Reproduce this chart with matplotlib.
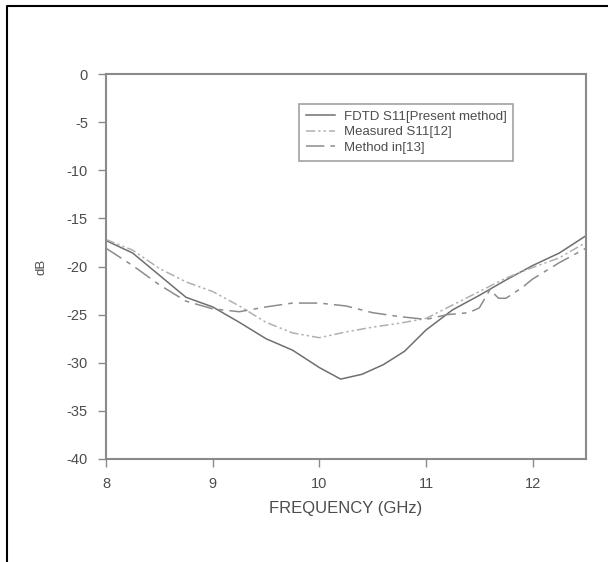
import matplotlib
matplotlib.use('Agg')
import matplotlib.pyplot as plt
from matplotlib.lines import Line2D

# S11 curves (dB) against frequency (GHz)
FDTD_FREQ = [8.0, 8.25, 8.5, 8.75, 9.0, 9.25, 9.5, 9.75, 10.0, 10.2, 10.4,
             10.6, 10.8, 11.0, 11.25, 11.5, 11.75, 12.0, 12.25, 12.5]
FDTD_S11 = [-17.3, -18.6, -20.9, -23.2, -24.2, -25.8, -27.5, -28.7, -30.5,
            -31.7, -31.2, -30.2, -28.8, -26.6, -24.5, -23.0, -21.4, -19.9,
            -18.6, -16.8]

MEAS_FREQ = [8.0, 8.25, 8.5, 8.75, 9.0, 9.25, 9.5, 9.75, 10.0, 10.25, 10.5,
             10.75, 11.0, 11.25, 11.5, 11.75, 12.0, 12.25, 12.5]
MEAS_S11 = [-17.2, -18.3, -20.2, -21.6, -22.6, -24.1, -25.8, -26.9, -27.4,
            -26.8, -26.3, -25.9, -25.4, -24.0, -22.6, -21.2, -20.1, -19.1,
            -17.5]

REF_FREQ = [8.0, 8.25, 8.5, 8.75, 9.0, 9.25, 9.5, 9.75, 10.0, 10.25, 10.5,
            10.75, 11.0, 11.2, 11.4, 11.5, 11.6, 11.68, 11.75, 11.9, 12.0,
            12.25, 12.5]
REF_S11 = [-18.1, -19.9, -21.9, -23.6, -24.4, -24.7, -24.2, -23.8, -23.8,
           -24.1, -24.8, -25.2, -25.5, -25.0, -24.8, -24.3, -22.4, -23.3,
           -23.3, -22.2, -21.3, -19.6, -18.1]

LABELS = ['FDTD S11[Present method]', 'Measured S11[12]', 'Method in[13]']
XTICKS = [8, 9, 10, 11, 12]
YTICKS = [0, -5, -10, -15, -20, -25, -30, -35, -40]

AXIS_GREY = '#8a8a8a'
TEXT_GREY = '#4d4d4d'

plt.rcParams['font.family'] = ['Liberation Sans', 'DejaVu Sans']

fig = plt.figure(figsize=(6.08, 5.62), dpi=100)
ax = fig.add_axes([0.1743, 0.1833, 0.7895, 0.685])

ax.plot(FDTD_FREQ, FDTD_S11, color='#6f6f6f', lw=1.1, ls='-', label=LABELS[0])
ax.plot(MEAS_FREQ, MEAS_S11, color='#b0b0b0', lw=1.1,
        ls=(0, (6, 2, 1.5, 2, 1.5, 2)), label=LABELS[1])
ax.plot(REF_FREQ, REF_S11, color='#8c8c8c', lw=1.1,
        ls=(0, (12, 4, 3, 4)), label=LABELS[2])

ax.set_xlim(8, 12.5)
ax.set_ylim(-40, 0)
ax.set_xticks(XTICKS)
ax.set_yticks(YTICKS)
ax.set_xticklabels([str(t) for t in XTICKS])
ax.set_yticklabels([str(t) for t in YTICKS])

for side in ('left', 'bottom', 'top', 'right'):
    ax.spines[side].set_color(AXIS_GREY)
    ax.spines[side].set_linewidth(1.5)
ax.tick_params(direction='out', length=6, width=1, color=AXIS_GREY,
               labelcolor=TEXT_GREY, labelsize=10.5, pad=7)

ax.set_xlabel('FREQUENCY (GHz)', color=TEXT_GREY, fontsize=12, labelpad=7)
ax.set_ylabel('dB', color=TEXT_GREY, fontsize=9.5, labelpad=14)

leg = ax.legend(loc='upper left', bbox_to_anchor=(0.402, 0.922),
                borderaxespad=0, fontsize=9.5, frameon=True, fancybox=False,
                handlelength=2.2, borderpad=0.5, labelspacing=0.25,
                handletextpad=0.7)
leg.get_frame().set_edgecolor(AXIS_GREY)
leg.get_frame().set_linewidth(1.2)
for txt in leg.get_texts():
    txt.set_color(TEXT_GREY)

# page border on the left and top
fig.add_artist(Line2D([7 / 608, 7 / 608, 1.0], [0.0, 1 - 6 / 562, 1 - 6 / 562],
                      transform=fig.transFigure, color='black', lw=1.5))

plt.savefig('out.png', dpi=100)
